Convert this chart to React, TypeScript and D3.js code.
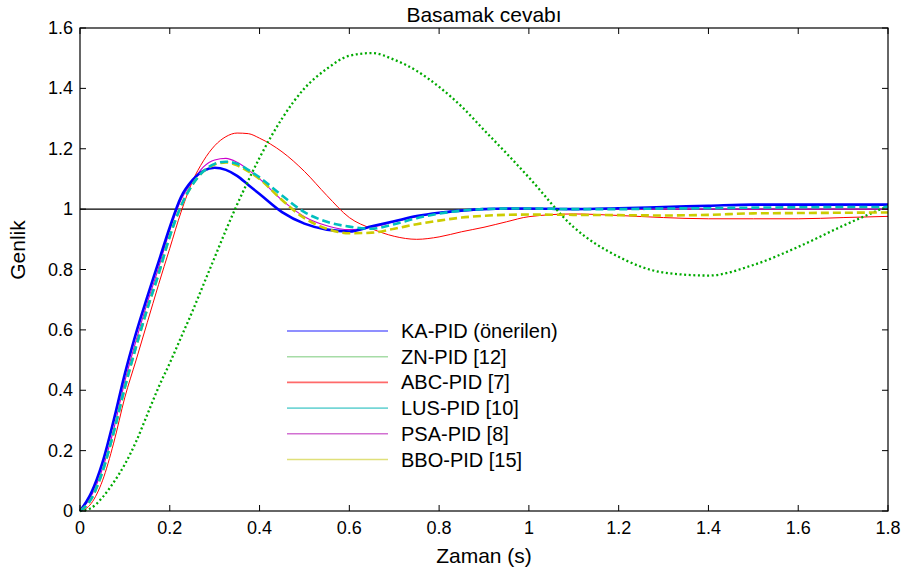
import { useRef, useEffect } from 'react'
import * as d3 from 'd3'

// Step response of the compared PID tunings
const time = [0, 0.025, 0.05, 0.075, 0.1, 0.125, 0.15, 0.175, 0.2, 0.225, 0.25, 0.275, 0.3, 0.325, 0.35, 0.375, 0.4, 0.45, 0.5, 0.55, 0.6, 0.65, 0.7, 0.75, 0.8, 0.85, 0.9, 0.95, 1.0, 1.1, 1.2, 1.3, 1.4, 1.5, 1.6, 1.7, 1.8]

const kaPid = [0, 0.06, 0.16, 0.3, 0.455, 0.59, 0.71, 0.825, 0.94, 1.04, 1.095, 1.127, 1.137, 1.13, 1.11, 1.08, 1.05, 0.99, 0.952, 0.932, 0.926, 0.943, 0.96, 0.977, 0.988, 0.995, 1.0, 1.002, 1.002, 1.0, 1.003, 1.007, 1.011, 1.015, 1.015, 1.015, 1.015]
const znPid = [0, 0.01, 0.045, 0.095, 0.155, 0.23, 0.32, 0.41, 0.49, 0.575, 0.66, 0.75, 0.84, 0.93, 1.015, 1.095, 1.17, 1.3, 1.4, 1.465, 1.508, 1.517, 1.495, 1.458, 1.405, 1.34, 1.262, 1.185, 1.105, 0.94, 0.842, 0.79, 0.78, 0.815, 0.875, 0.945, 1.01]
const abcPid = [0, 0.025, 0.1, 0.225, 0.377, 0.5, 0.625, 0.75, 0.87, 0.99, 1.09, 1.16, 1.21, 1.24, 1.252, 1.25, 1.235, 1.19, 1.125, 1.045, 0.972, 0.935, 0.91, 0.9, 0.908, 0.925, 0.94, 0.958, 0.975, 0.984, 0.979, 0.972, 0.968, 0.968, 0.968, 0.972, 0.976]
const lusPid = [0, 0.04, 0.13, 0.26, 0.41, 0.545, 0.67, 0.785, 0.91, 1.01, 1.08, 1.125, 1.15, 1.157, 1.15, 1.13, 1.105, 1.045, 0.99, 0.958, 0.942, 0.935, 0.95, 0.97, 0.985, 0.995, 1.0, 1.002, 1.002, 1.0, 1.0, 1.002, 1.003, 1.005, 1.006, 1.007, 1.007]
const psaPid = [0, 0.05, 0.14, 0.27, 0.43, 0.565, 0.69, 0.805, 0.93, 1.03, 1.09, 1.14, 1.163, 1.168, 1.155, 1.13, 1.1, 1.03, 0.975, 0.945, 0.932, 0.94, 0.958, 0.975, 0.988, 0.996, 1.0, 1.0, 1.0, 1.0, 1.0, 1.0, 1.0, 1.0, 1.0, 1.0, 1.0]
const bboPid = [0, 0.04, 0.13, 0.26, 0.41, 0.545, 0.67, 0.785, 0.91, 1.01, 1.08, 1.125, 1.148, 1.155, 1.145, 1.125, 1.1, 1.03, 0.97, 0.935, 0.92, 0.922, 0.935, 0.95, 0.962, 0.972, 0.978, 0.981, 0.982, 0.981, 0.98, 0.979, 0.981, 0.986, 0.987, 0.988, 0.989]

const seriesNames = ['KA-PID (önerilen)', 'ZN-PID [12]', 'ABC-PID [7]', 'LUS-PID [10]', 'PSA-PID [8]', 'BBO-PID [15]']
const seriesValues = [kaPid, znPid, abcPid, lusPid, psaPid, bboPid]
const xTicks = [0, 0.2, 0.4, 0.6, 0.8, 1, 1.2, 1.4, 1.6, 1.8]
const yTicks = [0, 0.2, 0.4, 0.6, 0.8, 1, 1.2, 1.4, 1.6]

const styles = [
  { color: '#0000ff', width: 2.6, dash: null, legend: '#6a6aff' },
  { color: '#00aa00', width: 2.3, dash: '2 2.6', legend: '#a6dca6' },
  { color: '#ff0000', width: 1, dash: null, legend: '#ff6a6a' },
  { color: '#00bfbf', width: 2.6, dash: '8 4', legend: '#74d6d6' },
  { color: '#cc00cc', width: 1.1, dash: null, legend: '#d270d2' },
  { color: '#cccc00', width: 2.6, dash: '8 4', legend: '#e0e07a' },
]
// draw order, last on top
const drawOrder = [2, 4, 0, 1, 5, 3]

const FONT = 'Liberation Sans, Arial, Helvetica, sans-serif'

export default function App() {
  const svgRef = useRef(null)
  const width = 903
  const height = 575

  useEffect(() => {
    if (!svgRef.current) return
    const svg = d3.select(svgRef.current)
    svg.selectAll('*').remove()

    const margin = { top: 28, right: 15, bottom: 64, left: 80 }
    const x = d3.scaleLinear().domain([0, 1.8]).range([margin.left, width - margin.right])
    const y = d3.scaleLinear().domain([0, 1.6]).range([height - margin.bottom, margin.top])
    const [x0, x1] = x.range()
    const [y0, y1] = y.range()

    svg.append('rect')
      .attr('x', 0).attr('y', 0).attr('width', width).attr('height', height)
      .attr('fill', 'white')

    const fmt = (d) => String(+d.toFixed(1))

    // reference line at 1
    svg.append('line')
      .attr('x1', x0).attr('x2', x1)
      .attr('y1', y(1)).attr('y2', y(1))
      .attr('stroke', 'black').attr('stroke-width', 1.2)

    const line = d3.line()
      .x((d) => x(d[0]))
      .y((d) => y(d[1]))
      .curve(d3.curveMonotoneX)

    drawOrder.forEach((i) => {
      const pts = time.map((t, k) => [t, seriesValues[i][k]])
      const s = styles[i]
      svg.append('path')
        .attr('d', line(pts))
        .attr('fill', 'none')
        .attr('stroke', s.color)
        .attr('stroke-width', s.width)
        .attr('stroke-dasharray', s.dash)
        .attr('stroke-linejoin', 'round')
    })

    // axes box
    svg.append('rect')
      .attr('x', x0).attr('y', y1)
      .attr('width', x1 - x0).attr('height', y0 - y1)
      .attr('fill', 'none').attr('stroke', 'black').attr('stroke-width', 1.2)

    const tickLen = 6
    xTicks.forEach((t) => {
      svg.append('line')
        .attr('x1', x(t)).attr('x2', x(t))
        .attr('y1', y0).attr('y2', y0 - tickLen)
        .attr('stroke', 'black')
      svg.append('line')
        .attr('x1', x(t)).attr('x2', x(t))
        .attr('y1', y1).attr('y2', y1 + tickLen)
        .attr('stroke', 'black')
      svg.append('text')
        .attr('x', x(t)).attr('y', y0 + 23)
        .attr('text-anchor', 'middle')
        .attr('font-family', FONT).attr('font-size', 18)
        .text(fmt(t))
    })
    yTicks.forEach((t) => {
      svg.append('line')
        .attr('x1', x0).attr('x2', x0 + tickLen)
        .attr('y1', y(t)).attr('y2', y(t))
        .attr('stroke', 'black')
      svg.append('line')
        .attr('x1', x1).attr('x2', x1 - tickLen)
        .attr('y1', y(t)).attr('y2', y(t))
        .attr('stroke', 'black')
      svg.append('text')
        .attr('x', x0 - 7).attr('y', y(t) + 6)
        .attr('text-anchor', 'end')
        .attr('font-family', FONT).attr('font-size', 18)
        .text(fmt(t))
    })

    // title and axis labels
    svg.append('text')
      .attr('x', (x0 + x1) / 2).attr('y', 22)
      .attr('text-anchor', 'middle')
      .attr('font-family', FONT).attr('font-size', 21)
      .text('Basamak cevabı')
    svg.append('text')
      .attr('x', (x0 + x1) / 2).attr('y', 563)
      .attr('text-anchor', 'middle')
      .attr('font-family', FONT).attr('font-size', 21)
      .text('Zaman (s)')
    svg.append('text')
      .attr('transform', 'translate(25,250) rotate(-90)')
      .attr('text-anchor', 'middle')
      .attr('font-family', FONT).attr('font-size', 21)
      .text('Genlik')

    // legend (no box)
    const legX = 287
    const legY = 331
    const rowH = 25.7
    seriesNames.forEach((name, i) => {
      const yy = legY + i * rowH
      svg.append('line')
        .attr('x1', legX).attr('x2', legX + 101)
        .attr('y1', yy).attr('y2', yy)
        .attr('stroke', styles[i].legend).attr('stroke-width', 1.6)
      svg.append('text')
        .attr('x', legX + 114).attr('y', yy + 7)
        .attr('font-family', FONT).attr('font-size', 20)
        .text(name)
    })
  }, [])

  return (
    <svg
      ref={svgRef}
      width={width}
      height={height}
      style={{ position: 'absolute', left: 0, top: 0 }}
    />
  )
}
